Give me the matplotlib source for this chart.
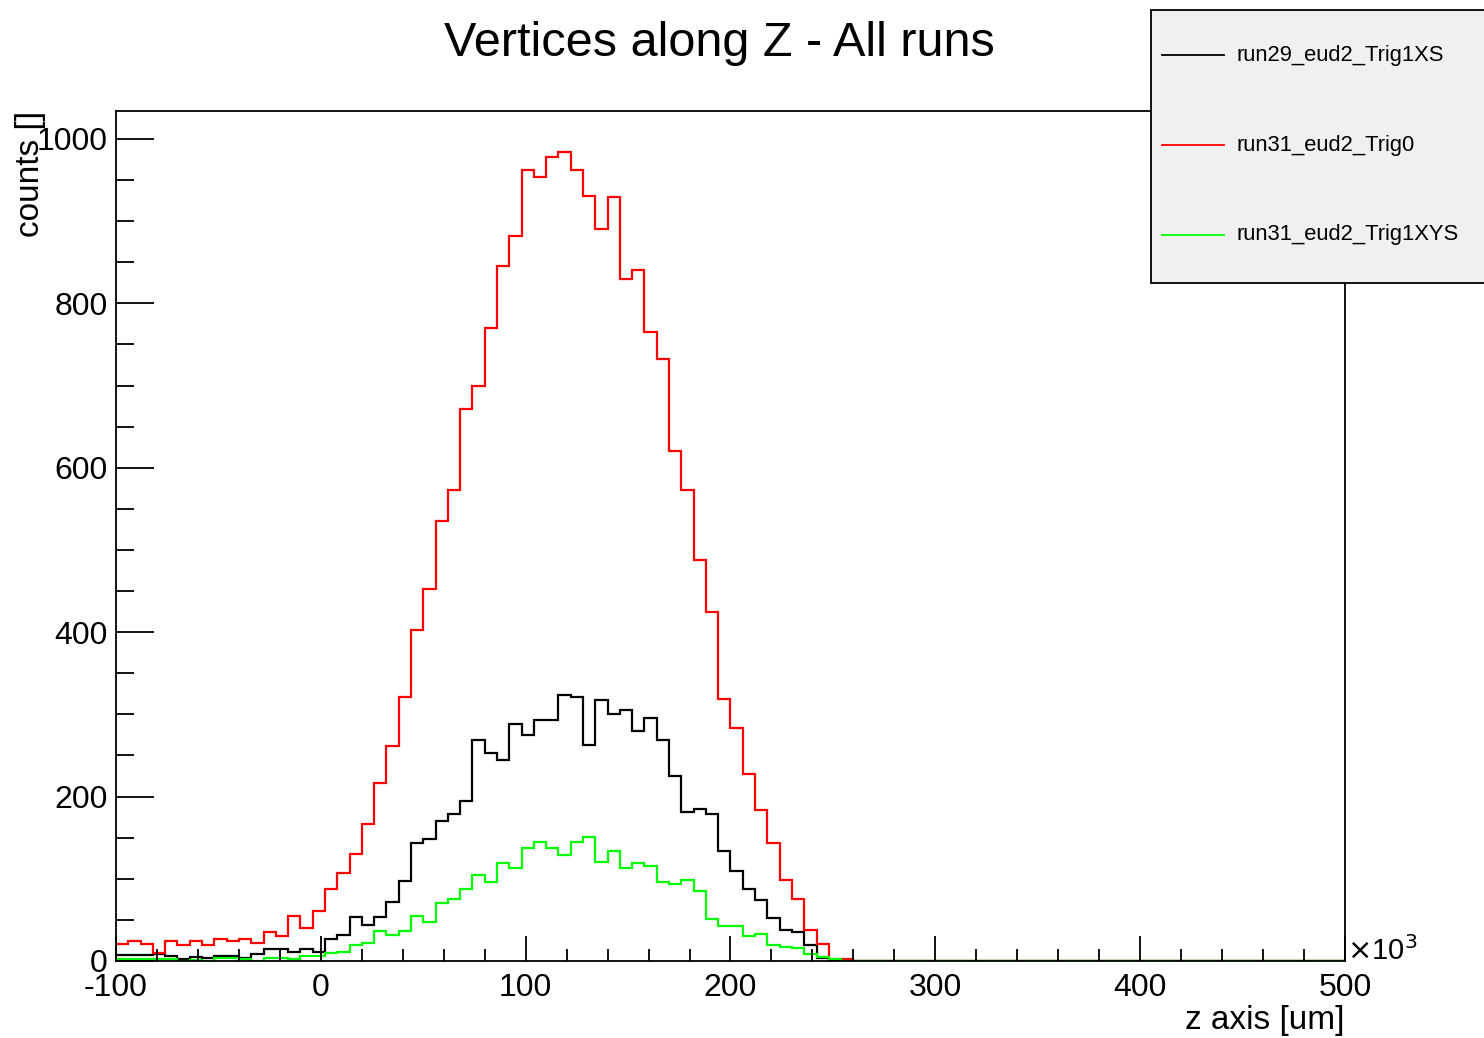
import numpy as np
import matplotlib
matplotlib.use('Agg')
import matplotlib.pyplot as plt
from matplotlib.lines import Line2D
from matplotlib.patches import Rectangle

plt.rcParams['font.family'] = ['Liberation Sans', 'DejaVu Sans']
plt.rcParams['axes.unicode_minus'] = False

# --- data: 100 bins of 6 (x10^3 um) from -100 to 500
edges = np.linspace(-100, 500, 101)

run29_trig1xs = [7, 7, 7, 9, 6, 2, 5, 4, 6, 6,
                 4, 8, 15, 15, 11, 15, 11, 27, 31, 53,
                 44, 53, 72, 97, 143, 148, 170, 179, 195, 269,
                 253, 245, 288, 275, 293, 293, 324, 321, 263, 318,
                 300, 305, 280, 296, 269, 225, 181, 185, 179, 134,
                 110, 88, 74, 52, 38, 35, 20, 4, 0, 0,
                 0, 0, 0, 0, 0, 0, 0, 0, 0, 0,
                 0, 0, 0, 0, 0, 0, 0, 0, 0, 0,
                 0, 0, 0, 0, 0, 0, 0, 0, 0, 0,
                 0, 0, 0, 0, 0, 0, 0, 0, 0, 0]
run31_trig0 = [21, 24, 21, 10, 24, 20, 24, 20, 27, 24,
               27, 22, 35, 30, 55, 40, 61, 88, 107, 130,
               167, 217, 261, 321, 403, 452, 535, 573, 671, 699,
               770, 845, 882, 962, 954, 978, 984, 962, 931, 890,
               929, 830, 841, 765, 732, 620, 573, 488, 424, 319,
               283, 227, 184, 143, 98, 76, 38, 21, 2, 2,
               0, 0, 0, 0, 0, 0, 0, 0, 0, 0,
               0, 0, 0, 0, 0, 0, 0, 0, 0, 0,
               0, 0, 0, 0, 0, 0, 0, 0, 0, 0,
               0, 0, 0, 0, 0, 0, 0, 0, 0, 0]
run31_trig1xys = [3, 3, 3, 3, 3, 0, 1, 0, 4, 4,
                  3, 0, 4, 4, 2, 6, 6, 10, 11, 19,
                  22, 36, 31, 37, 55, 48, 71, 75, 88, 105,
                  96, 119, 113, 137, 145, 138, 129, 145, 151, 121,
                  134, 113, 119, 116, 96, 94, 99, 85, 51, 42,
                  42, 30, 33, 20, 17, 16, 9, 5, 2, 0,
                  0, 0, 0, 0, 0, 0, 0, 0, 0, 0,
                  0, 0, 0, 0, 0, 0, 0, 0, 0, 0,
                  0, 0, 0, 0, 0, 0, 0, 0, 0, 0,
                  0, 0, 0, 0, 0, 0, 0, 0, 0, 0]

labels = ['run29_eud2_Trig1XS', 'run31_eud2_Trig0', 'run31_eud2_Trig1XYS']
colors = ['black', '#ff0000', '#00ff00']
series = [run29_trig1xs, run31_trig0, run31_trig1xys]

# --- figure
fig = plt.figure(figsize=(14.84, 10.38), dpi=100)
ax = fig.add_axes([0.0782, 0.0742, 0.8281, 0.8189])

for vals, c in zip(series, colors):
    ax.stairs(vals, edges, color=c, lw=1.6, baseline=None)

ax.set_xlim(-100, 500)
ax.set_ylim(0, 1034)

ax.set_xticks(np.arange(-100, 501, 100))
ax.set_xticks(np.arange(-100, 501, 20), minor=True)
ax.set_yticks(np.arange(0, 1001, 200))
ax.set_yticks(np.arange(0, 1001, 50), minor=True)
ax.tick_params(axis='x', which='major', direction='in', length=18, width=1.3,
               labelsize=23, pad=9)
ax.tick_params(axis='x', which='minor', direction='in', length=8.5, width=1.3)
ax.tick_params(axis='y', which='major', direction='in', length=27, width=1.3,
               labelsize=23, pad=6)
ax.tick_params(axis='y', which='minor', direction='in', length=13, width=1.3)
for s in ax.spines.values():
    s.set_linewidth(1.3)

ax.set_title('Vertices along Z - All runs', fontsize=35, x=0.491, y=1.055)
ax.set_xlabel('z axis [um]', fontsize=24, loc='right', labelpad=1)
ax.set_ylabel('counts []', fontsize=24, loc='top')
ax.yaxis.set_label_coords(-0.057, 1.0)
ax.text(1.002, -0.006, r'$\times$10$^{3}$', transform=ax.transAxes,
        fontsize=21, ha='left', va='bottom')

# --- legend box (ROOT style, runs off the right edge)
fig.patches.append(Rectangle((0.7757, 0.7274), 0.25, 0.2630,
                             transform=fig.transFigure, facecolor='#f0f0f0',
                             edgecolor='black', lw=1.3, zorder=5))
ys = [0.947, 0.860, 0.774]
for lab, c, yy in zip(labels, colors, ys):
    fig.lines.append(Line2D([0.7830, 0.8248], [yy, yy], color=c, lw=1.3,
                            transform=fig.transFigure, zorder=6))
    fig.text(0.8335, yy, lab, fontsize=15.8, va='center', ha='left', zorder=7)

fig.savefig('out.png', dpi=100)
